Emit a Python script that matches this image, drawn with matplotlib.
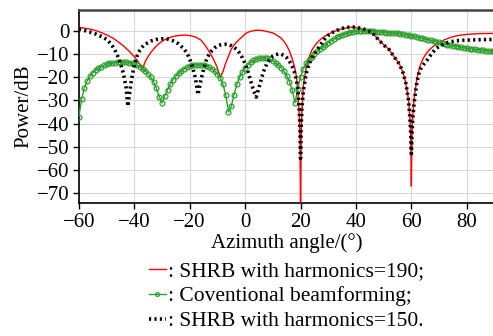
import matplotlib

matplotlib.use("Agg")

import matplotlib.pyplot as plt
import numpy as np

plt.rcParams["font.family"] = ["Liberation Serif", "DejaVu Serif"]
plt.rcParams["mathtext.fontset"] = "stix"

# SHRB with harmonics=190 (red)
red_deg = [-60, -58, -56, -54, -52, -50, -48, -46, -44, -42, -40, -39, -38, -37,
           -36, -35, -34, -33, -32, -31, -30, -29, -28, -26, -24, -22, -20, -18,
           -16, -15, -14, -13, -12, -11, -10, -9, -8, -7, -6, -5, -4, -3, -2, -1,
           0, 1, 2, 3, 4, 5, 6, 7, 8, 9, 10, 11, 12, 13, 14, 15, 16, 17, 18, 18.5,
           19, 19.5, 19.8, 20, 20.2, 20.5, 21, 22, 23, 24, 25, 26, 27, 28, 30, 32,
           34, 36, 38, 40, 42, 44, 46, 48, 50, 52, 54, 55, 56, 57, 58, 59, 59.5,
           59.8, 60, 60.2, 60.5, 61, 62, 63, 64, 65, 66, 67, 68, 70, 72, 74, 76,
           78, 80, 84, 88, 90]
red_db = [1.6, 1.3, 0.9, 0.3, -0.6, -1.6, -2.8, -4.5, -6.3, -8.5, -11.0, -12.6, -14.3, -16.3,
          -13.0, -11.0, -9.2, -7.7, -6.4, -5.3, -4.4, -3.7, -3.1, -2.3, -1.9, -1.7, -1.9, -2.5,
          -3.8, -5.2, -6.9, -8.8, -10.8, -13.2, -16.0, -20.0, -17.5, -13.8, -10.8, -7.8, -6.0, -4.6, -3.5, -2.4,
          -1.2, -0.5, -0.1, 0.2, 0.4, 0.4, 0.3, 0.1, -0.2, -0.5, -0.8, -1.4, -2.2, -3.0, -4.4, -6.2, -8.6, -12.0, -16.3, -19.5,
          -26.0, -35.0, -45.0, -80.0, -45.0, -35.0, -24.0, -16.0, -11.5, -8.5, -6.5, -5.0, -3.8, -2.8, -1.4, -0.2,
          0.7, 1.3, 1.7, 1.6, 1.1, 0.3, -0.9, -3.4, -5.9, -8.0, -11.5, -13.0, -15.0, -18.0, -22.5, -30.0, -38.0,
          -46.0, -67.0, -45.0, -37.0, -29.0, -20.5, -15.5, -12.5, -10.3, -8.7, -7.5, -6.5, -5.0, -3.7, -2.8, -2.1,
          -1.7, -1.4, -1.1, -1.0, -1.0]

# Coventional beamforming (green), one value per degree
cbf_deg = list(range(-60, 91))
cbf_db = [-37.0, -29.5, -24.5, -21.5, -19.5, -18.0, -16.8, -16.0, -15.3, -14.8,
          -14.4, -14.0, -13.8, -13.6, -13.5, -13.4, -13.4, -13.5, -13.6, -13.9,
          -14.3, -14.8, -15.5, -16.3, -17.3, -18.5, -20.0, -22.0, -24.8, -28.3,
          -31.0, -28.0, -25.5, -23.0, -21.0, -19.5, -18.2, -17.2, -16.3, -15.6,
          -15.1, -14.8, -14.6, -14.5, -14.5, -14.7, -15.0, -15.5, -16.2, -17.2,
          -18.5, -20.3, -23.0, -27.5, -35.0, -32.5, -27.5, -23.0, -20.0, -17.8,
          -16.0, -14.6, -13.5, -12.7, -12.1, -11.8, -11.6, -11.6, -11.8, -12.2,
          -12.8, -13.6, -14.6, -15.8, -17.3, -19.2, -21.8, -25.5, -31.0, -25.0,
          -19.8, -16.3, -14.0, -12.3, -11.0, -9.8, -8.8, -7.8, -6.8, -5.9,
          -5.0, -4.2, -3.4, -2.7, -2.1, -1.6, -1.2, -0.8, -0.5, -0.3,
          -0.1, 0.0, 0.0, 0.0, 0.0, 0.0, -0.1, -0.2, -0.3, -0.4,
          -0.5, -0.6, -0.7, -0.8, -0.9, -1.0, -1.2, -1.4, -1.6, -1.8,
          -2.0, -2.2, -2.5, -2.8, -3.1, -3.4, -3.7, -4.0, -4.3, -4.6,
          -4.9, -5.2, -5.5, -5.8, -6.0, -6.3, -6.5, -6.8, -7.0, -7.2,
          -7.4, -7.6, -7.8, -7.9, -8.0, -8.2, -8.3, -8.4, -8.5, -8.6, -8.7]

# SHRB with harmonics=150 (black dotted)
blk_deg = [-60, -58, -56, -54, -52, -50, -49, -48, -47, -46, -45, -44, -43, -42.3,
           -41.5, -41, -40, -39, -38, -37, -36, -34, -32, -30, -28, -26, -24, -22,
           -21, -20, -19, -18, -17.5, -17, -16.5, -16, -15, -14, -13, -12, -11, -10,
           -9, -8, -7, -6, -5, -4, -3, -2, -1, 0, 1, 2, 3, 4, 5, 6, 7, 8, 9, 10, 11,
           12, 13, 14, 15, 16, 17, 18, 18.5, 19, 19.5, 19.8, 20, 20.2, 20.5, 21, 22,
           23, 24, 25, 26, 27, 28, 29, 30, 32, 34, 36, 38, 40, 42, 44, 46, 48, 50,
           52, 54, 55, 56, 57, 58, 59, 59.5, 59.8, 60, 60.2, 60.5, 61, 62, 63, 64,
           65, 66, 67, 68, 69, 70, 72, 74, 76, 78, 80, 85, 90]
blk_db = [0.8, 0.3, -0.4, -1.2, -2.3, -3.5, -4.8, -6.3, -8.2, -10.8, -14.0, -18.0, -24.0, -32.5,
          -25.0, -21.0, -14.5, -10.8, -8.3, -6.7, -5.6, -4.3, -3.6, -3.3, -3.5, -4.2, -5.5, -7.8,
          -9.5, -12.0, -15.5, -20.0, -23.5, -27.5, -24.5, -21.5, -16.5, -12.5, -10.0, -8.4, -7.2, -6.5,
          -6.0, -5.8, -5.7, -5.8, -6.3, -7.0, -8.0, -9.5, -11.5, -14.0, -17.5, -21.5, -25.5, -28.5, -24.5, -20.0, -16.3, -13.8, -12.0, -10.8, -10.2,
          -9.9, -10.0, -10.5, -11.5, -13.0, -15.3, -18.5, -21.0, -25.0, -33.0, -42.0, -55.0, -42.0, -33.0, -26.0, -18.5,
          -14.5, -11.8, -9.8, -8.0, -6.3, -4.5, -3.0, -1.8, -0.3, 0.8, 1.5, 1.8, 1.7, 1.2, 0.4, -0.8, -3.6, -6.0,
          -8.0, -11.5, -13.0, -15.0, -18.0, -22.5, -30.0, -38.0, -45.0, -53.0, -45.0, -38.0, -31.0, -22.0, -17.0, -15.0,
          -13.6, -12.0, -10.3, -8.8, -7.5, -6.6, -5.4, -4.6, -4.2, -4.0, -3.9, -3.7, -3.6]

x_ticks = [-60, -40, -20, 0, 20, 40, 60, 80]
y_ticks = [0, -10, -20, -30, -40, -50, -60, -70]
labels = [": SHRB with harmonics=190;", ": Coventional beamforming;", ": SHRB with harmonics=150."]

fig = plt.figure(figsize=(4.93, 3.36), dpi=100)
ax = fig.add_axes([0.160, 0.396, 0.843, 0.574])

ax.plot(red_deg, red_db, color="#ff0000", linewidth=1.0, label=labels[0], zorder=3)
ax.plot(cbf_deg, cbf_db, color="#2ca02c", linewidth=1.0, marker="o", markersize=3.5,
        markerfacecolor="none", markeredgewidth=0.9, label=labels[1], zorder=4)
ax.plot(blk_deg, blk_db, color="black", linewidth=2.6, linestyle=(0, (0.6, 0.9)),
        label=labels[2], zorder=5)

ax.set_xlim(-60, 90)
ax.set_ylim(-74.3, 9.1)
ax.set_xticks(x_ticks)
ax.set_yticks(y_ticks)
ax.grid(True, color="#d9d9d9", linewidth=0.8)
ax.set_axisbelow(True)
ax.tick_params(direction="out", length=4, width=1.0, labelsize=15, pad=3)
for side in ["left", "bottom"]:
    ax.spines[side].set_linewidth(1.2)
    ax.spines[side].set_color("black")
ax.spines["top"].set_linewidth(1.8)
ax.spines["top"].set_color("#444444")
ax.spines["right"].set_visible(False)

ax.set_xlabel("Azimuth angle/(°)", fontsize=15, labelpad=1)
ax.set_ylabel("Power/dB", fontsize=15, labelpad=2)

handles, labs = ax.get_legend_handles_labels()
fig.legend(handles, labs, loc="upper left", bbox_to_anchor=(0.303, 0.222), frameon=False,
           fontsize=15.5, handlelength=0.75, handletextpad=0.1, labelspacing=0.22,
           borderpad=0, borderaxespad=0, markerscale=0.8)

fig.savefig("out.png", dpi=100)
